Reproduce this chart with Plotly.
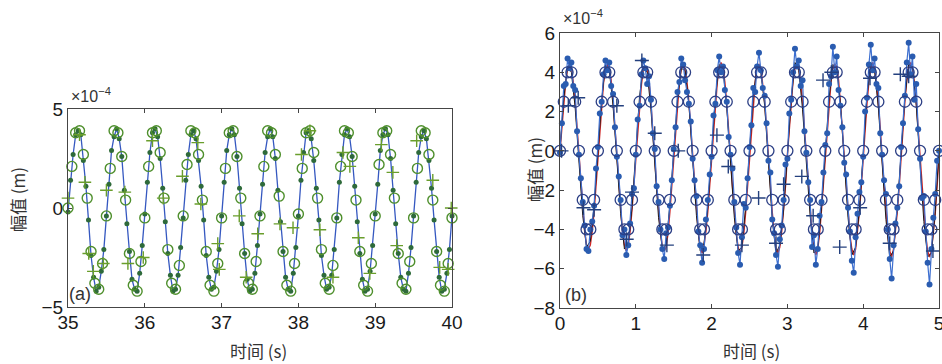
import numpy as np
import plotly.graph_objects as go

# ---------------- Panel (a) data (values in units of 1e-4 m) ----------------
a_t_start, a_t_end = 35.0, 40.0
a_dot_y = [
    -0.2, 1.4, 2.7, 3.7, 3.9, 3.7, 2.4, 1.1, -0.6, -2.4, -3.5, -4.2, -4.0, -3.2, -2.1,
    -0.4, 1.2, 2.9, 3.6, 4.0, 3.5, 2.6, 0.9, -0.8, -2.2, -3.6, -4.1, -4.2, -3.3, -1.9,
    -0.3, 1.3, 2.8, 3.8, 4.0, 3.6, 2.5, 1.0, -0.7, -2.3, -3.4, -4.2, -4.1, -3.4, -2.0,
    -0.5, 1.4, 2.7, 3.7, 3.9, 3.5, 2.4, 1.1, -0.6, -2.4, -3.5, -4.1, -4.0, -3.2, -2.1,
    -0.4, 1.3, 2.9, 3.7, 4.0, 3.7, 2.6, 1.0, -0.8, -2.3, -3.6, -4.2, -4.1, -3.3, -1.9,
    -0.3, 1.2, 2.8, 3.6, 4.0, 3.6, 2.5, 0.9, -0.7, -2.2, -3.5, -4.1, -4.2, -3.3, -2.0,
    -0.4, 1.4, 2.8, 3.8, 3.9, 3.5, 2.4, 1.0, -0.6, -2.4, -3.4, -4.1, -4.0, -3.4, -2.1,
    -0.5, 1.3, 2.7, 3.7, 4.0, 3.6, 2.6, 1.1, -0.7, -2.3, -3.6, -4.2, -4.1, -3.2, -1.9,
    -0.3, 1.2, 2.9, 3.7, 4.0, 3.7, 2.5, 0.9, -0.8, -2.3, -3.5, -4.1, -4.2, -3.3, -2.0,
    -0.4, 1.3, 2.8, 3.6, 3.9, 3.5, 2.4, 1.0, -0.6, -2.2, -3.5, -4.2, -4.1, -3.3, -2.1,
    -0.4,
]
a_circ_y = [
    0.0, 2.1, 3.8, 3.9, 2.7, 0.5, -2.2, -3.8, -4.1, -2.8,
    -0.4, 2.0, 3.9, 3.8, 2.6, 0.4, -2.3, -3.9, -4.2, -2.7,
    -0.5, 2.1, 3.8, 3.9, 2.8, 0.5, -2.1, -3.8, -4.1, -2.9,
    -0.4, 2.2, 3.9, 3.8, 2.7, 0.4, -2.2, -3.9, -4.2, -2.8,
    -0.5, 2.0, 3.8, 3.9, 2.6, 0.5, -2.3, -3.8, -4.1, -2.7,
    -0.4, 2.1, 3.9, 3.8, 2.7, 0.6, -2.2, -3.9, -4.2, -2.8,
    -0.3, 2.0, 3.8, 3.9, 2.8, 0.5, -2.1, -3.8, -4.1, -2.9,
    -0.5, 2.1, 3.9, 3.8, 2.6, 0.4, -2.2, -3.9, -4.2, -2.8,
    -0.4, 2.2, 3.8, 3.9, 2.7, 0.5, -2.3, -3.8, -4.1, -2.7,
    -0.5, 2.0, 3.9, 3.8, 2.7, 0.4, -2.2, -3.9, -4.2, -2.8,
    -0.5,
]
a_plus_t = [35.00, 35.15, 35.22, 35.27, 35.33, 35.46, 35.50, 35.74, 35.78, 35.98,
            36.10, 36.24, 36.49, 36.69, 36.73, 36.95, 36.97, 37.23, 37.32, 37.47,
            37.76, 37.93, 38.04, 38.15, 38.28, 38.45, 38.58, 38.67, 38.78, 38.93,
            39.08, 39.23, 39.28, 39.54, 39.75, 39.84, 39.95, 39.99]
a_plus_y = [0.5, 3.7, 1.3, -2.3, -3.2, -2.8, 0.9, 0.8, -2.8, -2.5,
            3.4, 0.5, 1.6, 3.3, 0.2, -1.8, -3.1, -0.4, -3.5, -1.3,
            -0.8, -1.0, 2.7, 3.9, -1.1, -3.5, 2.8, 2.1, -1.5, -3.3,
            3.2, 1.8, -1.9, 3.4, 1.4, -3.0, -3.1, 0.0]

# ---------------- Panel (b) data (values in units of 1e-4 m) ----------------
b_t_start, b_t_end = 0.0, 5.0
b_red_y = [
    0.0, 1.3, 2.5, 3.5, 4.2, 4.4, 4.2, 3.5, 2.5, 1.2, -0.3, -1.8, -3.1, -4.1, -4.8, -5.0, -4.8, -4.1, -3.1, -1.8,
    -0.3, 1.2, 2.4, 3.5, 4.1, 4.4, 4.2, 3.6, 2.5, 1.1, -0.3, -1.8, -3.1, -4.2, -4.8, -5.1, -4.8, -4.1, -3.0, -1.7,
    -0.3, 1.2, 2.5, 3.4, 4.2, 4.3, 4.2, 3.5, 2.4, 1.2, -0.4, -1.8, -3.2, -4.1, -4.9, -5.1, -4.9, -4.2, -3.1, -1.8,
    -0.2, 1.2, 2.5, 3.5, 4.2, 4.4, 4.1, 3.5, 2.5, 1.1, -0.3, -1.9, -3.1, -4.2, -4.9, -5.2, -4.8, -4.1, -3.1, -1.7,
    -0.3, 1.1, 2.5, 3.5, 4.2, 4.5, 4.2, 3.5, 2.4, 1.2, -0.3, -1.8, -3.2, -4.2, -4.9, -5.2, -4.9, -4.2, -3.1, -1.8,
    -0.3, 1.2, 2.4, 3.5, 4.3, 4.4, 4.2, 3.4, 2.5, 1.1, -0.4, -1.8, -3.1, -4.2, -5.0, -5.2, -4.9, -4.1, -3.1, -1.8,
    -0.2, 1.2, 2.5, 3.6, 4.2, 4.5, 4.2, 3.5, 2.5, 1.2, -0.3, -1.9, -3.2, -4.2, -4.9, -5.3, -5.0, -4.2, -3.0, -1.7,
    -0.3, 1.1, 2.5, 3.5, 4.2, 4.4, 4.3, 3.6, 2.4, 1.1, -0.3, -1.8, -3.2, -4.3, -5.0, -5.3, -5.0, -4.2, -3.1, -1.8,
    -0.3, 1.2, 2.4, 3.5, 4.2, 4.5, 4.2, 3.5, 2.5, 1.2, -0.4, -1.9, -3.2, -4.3, -5.1, -5.4, -5.0, -4.2, -3.1, -1.8,
    -0.2, 1.2, 2.5, 3.6, 4.3, 4.5, 4.2, 3.5, 2.5, 1.1, -0.3, -1.9, -3.3, -4.3, -5.1, -5.4, -5.1, -4.3, -3.2, -1.8,
    -0.3,
]
b_black_y = [
    0.1, 2.7, 4.3, 4.0, 2.2, -0.5, -3.3, -4.9, -4.6, -2.8,
    0.0, 2.6, 4.4, 4.1, 2.3, -0.4, -3.2, -5.0, -4.7, -2.9,
    0.1, 2.8, 4.3, 4.0, 2.1, -0.6, -3.4, -5.0, -4.8, -2.7,
    -0.1, 2.6, 4.2, 4.1, 2.4, -0.5, -3.3, -5.1, -4.7, -2.9,
    0.0, 2.7, 4.4, 4.2, 2.2, -0.4, -3.4, -5.1, -4.9, -2.8,
    0.1, 2.8, 4.3, 4.0, 2.3, -0.6, -3.5, -5.2, -4.8, -3.0,
    0.0, 2.6, 4.5, 4.1, 2.1, -0.5, -3.3, -5.2, -5.0, -2.9,
    -0.1, 2.7, 4.4, 4.2, 2.4, -0.4, -3.4, -5.3, -4.9, -3.0,
    0.1, 2.8, 4.5, 4.1, 2.2, -0.6, -3.5, -5.4, -5.1, -2.9,
    0.0, 2.7, 4.4, 4.3, 2.3, -0.5, -3.6, -5.4, -5.2, -3.1,
    0.0,
]
b_blue_y = [
    -0.1, 1.4, 3.3, 3.4, 4.7, 4.2, 4.5, 3.3, 3.1, 1.0, -0.2, -1.4, -2.6, -3.8, -5.0, -5.1, -4.0, -3.6, -2.8, -0.9,
    0.2, 1.9, 2.5, 3.9, 4.6, 4.1, 4.5, 3.3, 2.9, 1.2, -0.3, -1.3, -2.5, -4.3, -4.0, -5.3, -4.8, -3.7, -2.2, -1.9,
    -0.2, 1.6, 2.3, 3.9, 4.6, 4.2, 3.4, 3.8, 2.6, 0.9, 0.1, -1.8, -2.6, -4.0, -5.0, -5.5, -4.2, -3.9, -2.8, -1.5,
    0.1, 1.2, 3.0, 3.5, 4.7, 4.4, 3.6, 3.0, 2.4, 1.5, -0.4, -1.5, -2.3, -4.1, -4.8, -5.7, -5.0, -3.5, -2.5, -1.2,
    -0.3, 1.8, 2.4, 4.1, 4.8, 4.0, 4.3, 3.1, 2.5, 0.7, -0.2, -0.9, -2.6, -3.9, -5.2, -5.8, -4.4, -2.7, -2.9, -1.4,
    0.2, 1.3, 3.2, 3.0, 4.3, 5.0, 4.1, 3.2, 2.8, 1.4, -0.5, -1.1, -3.5, -4.2, -5.3, -5.9, -4.5, -3.8, -2.5, -0.7,
    -0.4, 1.9, 2.6, 4.0, 5.2, 4.3, 4.6, 3.3, 3.6, 1.0, -0.1, -1.6, -2.5, -4.9, -4.3, -5.8, -5.0, -3.3, -2.6, -1.1,
    0.3, 0.9, 3.4, 3.8, 5.3, 4.0, 4.8, 3.1, 2.3, 1.2, -0.6, -1.2, -2.9, -4.1, -5.6, -6.2, -4.4, -3.2, -2.1, -1.6,
    -0.3, 2.0, 2.7, 4.4, 5.4, 4.1, 4.7, 3.4, 3.2, 0.9, -0.2, -1.5, -2.2, -4.0, -5.5, -6.5, -4.8, -3.7, -2.9, -1.8,
    0.2, 1.4, 2.8, 4.5, 5.5, 3.9, 4.8, 2.6, 3.4, 1.1, -0.4, -2.4, -2.3, -4.1, -5.7, -6.8, -5.0, -3.4, -2.2, -0.5,
    0.0,
]
b_circ_y = [
    0, 2.5, 4, 4, 2.5, 0, -2.5, -4, -4, -2.5,
    0, 2.5, 4, 4, 2.5, 0, -2.5, -4, -4, -2.5,
    0, 2.5, 4, 4, 2.5, 0, -2.5, -4, -4, -2.5,
    0, 2.5, 4, 4, 2.5, 0, -2.5, -4, -4, -2.5,
    0, 2.5, 4, 4, 2.5, 0, -2.5, -4, -4, -2.5,
    0, 2.5, 4, 4, 2.5, 0, -2.5, -4, -4, -2.5,
    0, 2.5, 4, 4, 2.5, 0, -2.5, -4, -4, -2.5,
    0, 2.5, 4, 4, 2.5, 0, -2.5, -4, -4, -2.5,
    0, 2.5, 4, 4, 2.5, 0, -2.5, -4, -4, -2.5,
    0, 2.5, 4, 4, 2.5, 0, -2.5, -4, -4, -2.5,
    0,
]
b_plus_t = [0.02, 0.11, 0.24, 0.31, 0.45, 0.75, 0.88, 0.95, 1.08, 1.25,
            1.41, 1.56, 1.89, 2.07, 2.22, 2.40, 2.62, 2.85, 2.95, 3.19,
            3.34, 3.47, 3.58, 3.69, 3.96, 4.09, 4.35, 4.49, 4.60, 4.92]
b_plus_y = [0.0, 2.3, 2.7, -2.9, -3.0, 2.3, -4.5, -2.1, 4.6, 0.9,
            -4.8, 0.0, -5.3, 0.8, -0.8, -4.8, -2.4, -4.7, -1.7, -1.3,
            -3.3, 3.6, 4.0, -4.9, -2.9, 3.7, -4.7, 3.9, 3.8, -5.1]

a_xticks = [35, 36, 37, 38, 39, 40]
a_yticks = [-5, 0, 5]
b_xticks = [0, 1, 2, 3, 4, 5]
b_yticks = [-8, -6, -4, -2, 0, 2, 4, 6]

x_title = "时间 (s)"
y_title = "幅值 (m)"

# ---------------- time grids ----------------
a_dot_t = np.linspace(a_t_start, a_t_end, len(a_dot_y))
a_circ_t = np.linspace(a_t_start, a_t_end, len(a_circ_y))
b_red_t = np.linspace(b_t_start, b_t_end, len(b_red_y))
b_black_t = np.linspace(b_t_start, b_t_end, len(b_black_y))
b_blue_t = np.linspace(b_t_start, b_t_end, len(b_blue_y))
b_circ_t = np.linspace(b_t_start, b_t_end, len(b_circ_y))

W, H = 942, 364
def px_x(p):
    return p / W
def px_y(p):
    return 1 - p / H

fig = go.Figure()

# Panel (a)
fig.add_trace(go.Scatter(x=a_dot_t, y=a_dot_y, mode="lines", xaxis="x", yaxis="y",
                         line=dict(color="#3558c0", width=1.3), cliponaxis=False))
fig.add_trace(go.Scatter(x=a_dot_t, y=a_dot_y, mode="markers", xaxis="x", yaxis="y",
                         marker=dict(color="#2e6a3a", size=5), cliponaxis=False))
fig.add_trace(go.Scatter(x=a_circ_t, y=a_circ_y, mode="markers", xaxis="x", yaxis="y",
                         marker=dict(symbol="circle-open", color="#4e8f2c", size=10,
                                     line=dict(width=1.4, color="#4e8f2c")),
                         cliponaxis=False))
fig.add_trace(go.Scatter(x=a_plus_t, y=a_plus_y, mode="markers", xaxis="x", yaxis="y",
                         marker=dict(symbol="cross-thin", size=9,
                                     line=dict(width=1.4, color="#6a9e2c")),
                         cliponaxis=False))

# Panel (b)
fig.add_trace(go.Scatter(x=b_red_t, y=b_red_y, mode="lines", xaxis="x2", yaxis="y2",
                         line=dict(color="#d02828", width=1.4), cliponaxis=False))
fig.add_trace(go.Scatter(x=b_black_t, y=b_black_y, mode="lines", xaxis="x2", yaxis="y2",
                         line=dict(color="#1a1a1a", width=1.0), cliponaxis=False))
fig.add_trace(go.Scatter(x=b_blue_t, y=b_blue_y, mode="lines+markers", xaxis="x2", yaxis="y2",
                         line=dict(color="#3d6fd0", width=1.2),
                         marker=dict(color="#2a5cb0", size=6), cliponaxis=False))
fig.add_trace(go.Scatter(x=b_circ_t, y=b_circ_y, mode="markers", xaxis="x2", yaxis="y2",
                         marker=dict(symbol="circle-open", color="#2c3f85", size=11,
                                     line=dict(width=1.3, color="#2c3f85")),
                         cliponaxis=False))
fig.add_trace(go.Scatter(x=b_plus_t, y=b_plus_y, mode="markers", xaxis="x2", yaxis="y2",
                         marker=dict(symbol="cross-thin", size=10,
                                     line=dict(width=1.4, color="#24407e")),
                         cliponaxis=False))

axis_common = dict(showline=True, linecolor="#454545", linewidth=1, mirror="ticks",
                   ticks="inside", ticklen=4, tickcolor="#454545", showgrid=False,
                   zeroline=False, automargin=False, ticklabeloverflow="allow",
                   tickfont=dict(family="Liberation Sans, Arial", size=19, color="#1a1a1a"))

fig.update_layout(
    width=W, height=H,
    margin=dict(l=0, r=0, t=0, b=0, pad=0, autoexpand=False),
    paper_bgcolor="white", plot_bgcolor="white",
    showlegend=False,
    xaxis=dict(domain=[px_x(68), px_x(452)], range=[35, 40], tickvals=a_xticks,
               anchor="y", ticklabelstandoff=-2, **axis_common),
    yaxis=dict(domain=[px_y(307), px_y(109)], range=[-5, 5], tickvals=a_yticks,
               anchor="x", **axis_common),
    xaxis2=dict(domain=[px_x(560), px_x(939)], range=[0, 5], tickvals=b_xticks,
                anchor="y2", ticklabelstandoff=-2, **axis_common),
    yaxis2=dict(domain=[px_y(308), px_y(33)], range=[-8, 6], tickvals=b_yticks,
                anchor="x2", **axis_common),
)

txt_font = dict(family="Noto Sans CJK SC, Liberation Sans", size=17, color="#333")
sci_font = dict(family="Liberation Sans, Arial", size=16, color="#333")
lab_font = dict(family="Liberation Sans, Arial", size=18, color="#333")
ann = [
    dict(x=px_x(258), y=px_y(350), text=x_title, font=txt_font),
    dict(x=px_x(751), y=px_y(350), text=x_title, font=txt_font),
    dict(x=px_x(17), y=px_y(200), text=y_title, textangle=-90, font=txt_font),
    dict(x=px_x(534), y=px_y(170), text=y_title, textangle=-90, font=txt_font),
    dict(x=px_x(91), y=px_y(95), text="×10<sup>−4</sup>", font=sci_font),
    dict(x=px_x(583), y=px_y(17), text="×10<sup>−4</sup>", font=sci_font),
    dict(x=px_x(80), y=px_y(294), text="(a)", font=lab_font),
    dict(x=px_x(576), y=px_y(295), text="(b)", font=lab_font),
]
for a in ann:
    a.setdefault("xanchor", "center")
    a.setdefault("yanchor", "middle")
    a.update(xref="paper", yref="paper", showarrow=False)
fig.update_layout(annotations=ann)

fig.write_html(
    "out.html",
    config={"displayModeBar": False},
    post_script="document.body.style.margin='0';document.body.style.overflow='hidden';",
)
